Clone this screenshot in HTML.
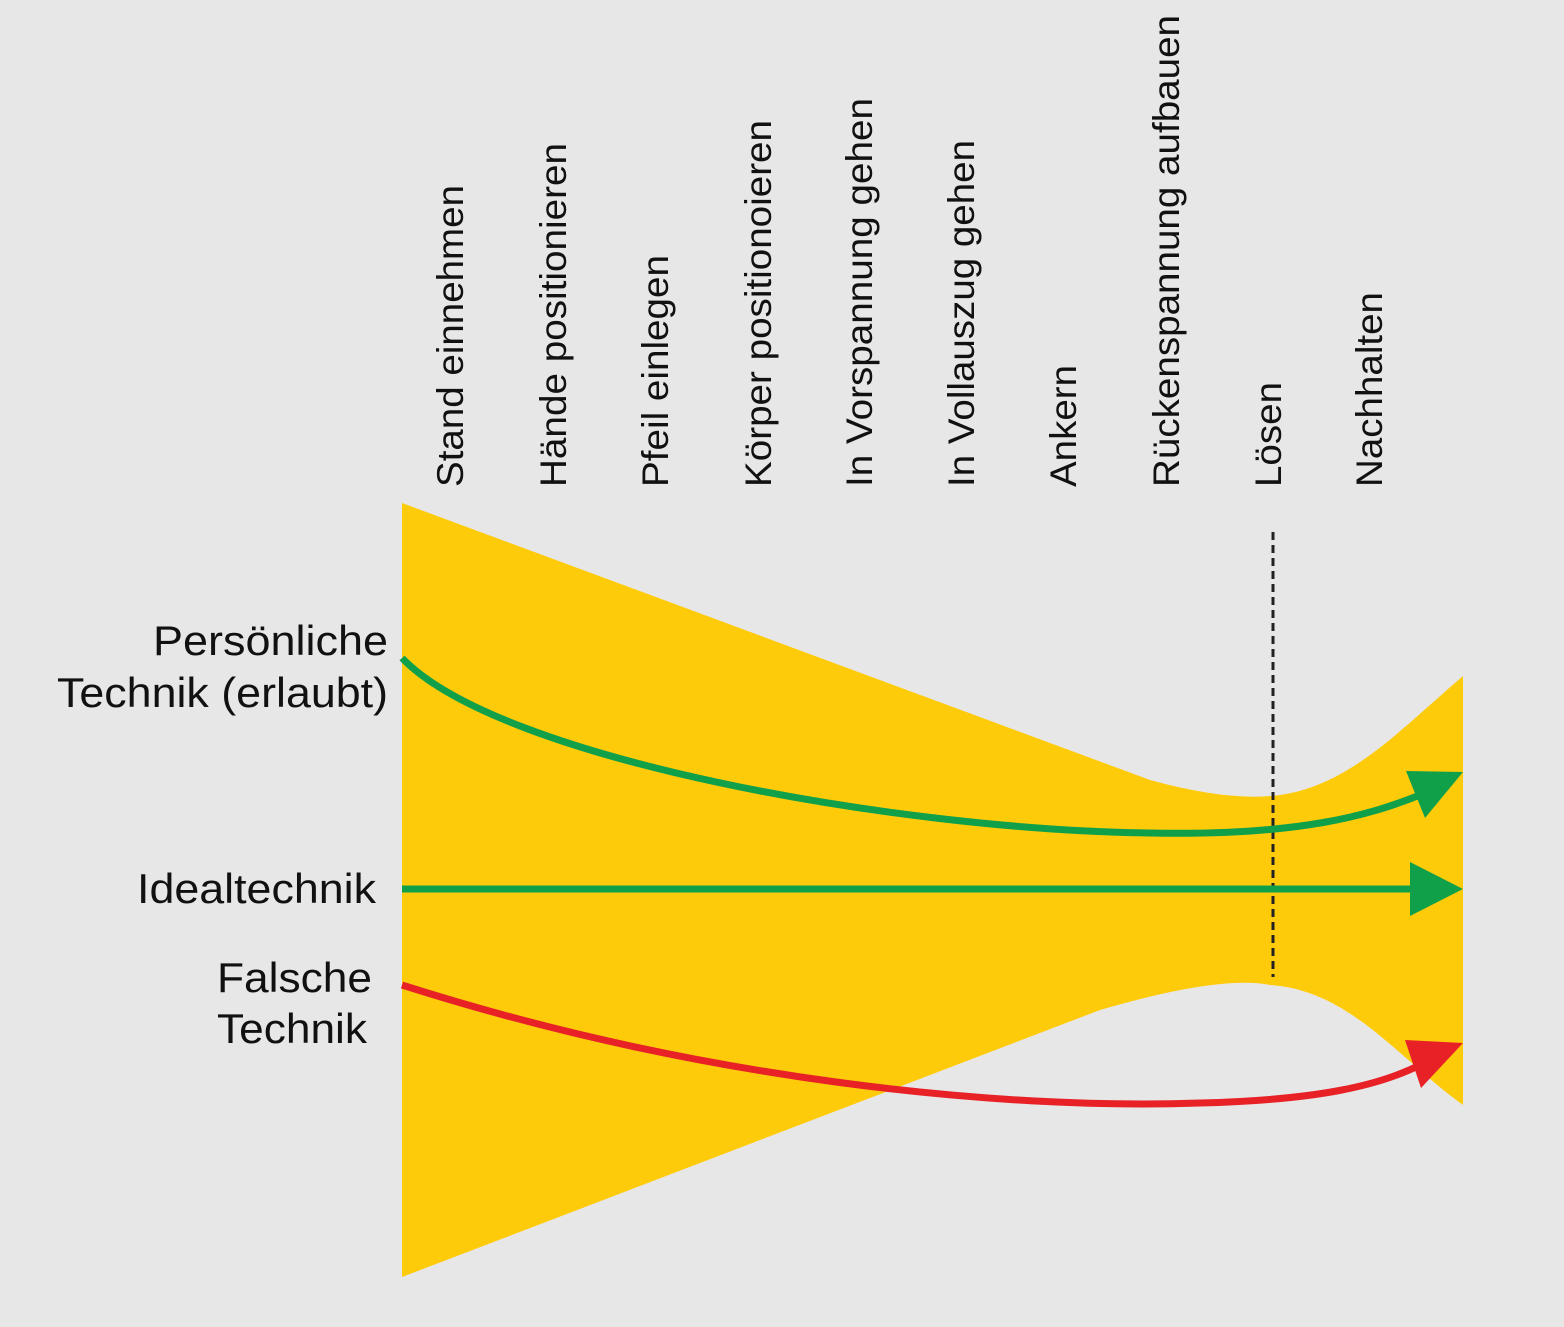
<!DOCTYPE html>
<html><head><meta charset="utf-8"><style>
html,body{margin:0;padding:0;background:#e7e7e7;}
svg{display:block;}
text{font-family:"Liberation Sans",sans-serif;fill:#111;}
</style></head><body>
<svg width="1564" height="1327" viewBox="0 0 1564 1327" xmlns="http://www.w3.org/2000/svg">
<rect width="1564" height="1327" fill="#e7e7e7"/>
<path d="M402,503 L1150,780 Q1230,802 1280,795 C1350,785 1400,730 1463,676 L1463,1105 C1400,1060 1350,990 1270,985 Q1220,975 1100,1010 L402,1277 Z" fill="#fecb0a"/>
<line x1="1273" y1="532" x2="1273" y2="977" stroke="#222" stroke-width="3" stroke-dasharray="8,5"/>
<path d="M402,658 C500,760 900,830 1150,833 C1300,836 1370,815 1420,795" fill="none" stroke="#10a04a" stroke-width="7"/>
<polygon points="1463,772 1406,771 1425,818" fill="#10a04a"/>
<line x1="402" y1="889" x2="1412" y2="889" stroke="#10a04a" stroke-width="7"/>
<polygon points="1410,862 1463,889 1410,916" fill="#10a04a"/>
<path d="M402,985 C700,1080 1000,1110 1200,1103 C1320,1100 1380,1085 1420,1065" fill="none" stroke="#e82127" stroke-width="7"/>
<polygon points="1463,1043 1405,1040 1421,1088" fill="#e82127"/>
<g font-size="37">
<text transform="translate(463,487) rotate(-90)" textLength="302" lengthAdjust="spacingAndGlyphs">Stand einnehmen</text>
<text transform="translate(566,487) rotate(-90)" textLength="344" lengthAdjust="spacingAndGlyphs">Hände positionieren</text>
<text transform="translate(668,487) rotate(-90)" textLength="232" lengthAdjust="spacingAndGlyphs">Pfeil einlegen</text>
<text transform="translate(771,487) rotate(-90)" textLength="367" lengthAdjust="spacingAndGlyphs">Körper positionoieren</text>
<text transform="translate(872,487) rotate(-90)" textLength="389" lengthAdjust="spacingAndGlyphs">In Vorspannung gehen</text>
<text transform="translate(974,487) rotate(-90)" textLength="347" lengthAdjust="spacingAndGlyphs">In Vollauszug gehen</text>
<text transform="translate(1076,487) rotate(-90)" textLength="122" lengthAdjust="spacingAndGlyphs">Ankern</text>
<text transform="translate(1179,487) rotate(-90)" textLength="472" lengthAdjust="spacingAndGlyphs">Rückenspannung aufbauen</text>
<text transform="translate(1281,487) rotate(-90)" textLength="105" lengthAdjust="spacingAndGlyphs">Lösen</text>
<text transform="translate(1382,487) rotate(-90)" textLength="195" lengthAdjust="spacingAndGlyphs">Nachhalten</text>
</g>
<g font-size="42">
<text x="153" y="655" textLength="235" lengthAdjust="spacingAndGlyphs">Persönliche</text>
<text x="57" y="707" textLength="331" lengthAdjust="spacingAndGlyphs">Technik (erlaubt)</text>
<text x="137" y="903" textLength="239" lengthAdjust="spacingAndGlyphs">Idealtechnik</text>
<text x="217" y="992" textLength="155" lengthAdjust="spacingAndGlyphs">Falsche</text>
<text x="217" y="1043" textLength="150" lengthAdjust="spacingAndGlyphs">Technik</text>
</g>
</svg>
</body></html>
